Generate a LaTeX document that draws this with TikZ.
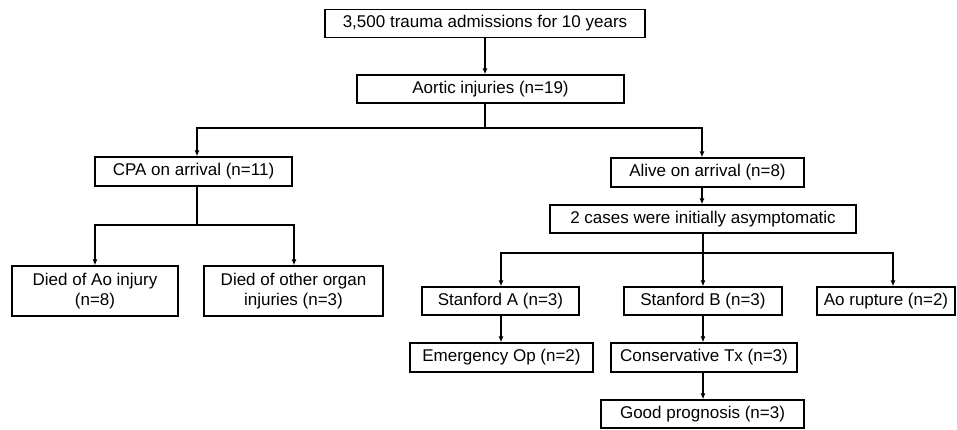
\documentclass[tikz,border=0pt]{standalone}
\usepackage{fontspec}
\setmainfont{Liberation Sans}
\usetikzlibrary{arrows.meta}
\begin{document}
\begin{tikzpicture}[x=1pt,y=-1pt,
  box/.style={draw, line width=1.3pt, inner sep=0pt, align=center, font=\fontsize{17}{20.5}\selectfont},
  arr/.style={-{Latex[length=6pt,width=5pt]}, line width=1.3pt},
  ln/.style={line width=1.3pt}]
\useasboundingbox (0,0) rectangle (957,429);
\node[box, minimum width=320, minimum height=28.5] (b1) at (485,23.5) {3,500 trauma admissions for 10 years};
\node[box, minimum width=267, minimum height=28] (b2) at (490.5,89) {Aortic injuries (n=19)};
\node[box, minimum width=197, minimum height=29] (cpa) at (193.5,171.5) {CPA on arrival (n=11)};
\node[box, minimum width=193, minimum height=29] (alive) at (707.5,172.5) {Alive on arrival (n=8)};
\node[box, minimum width=306, minimum height=28] (cases) at (703,219) {2 cases were initially asymptomatic};
\node[box, minimum width=166, minimum height=50] (diedAo) at (95,291) {Died of Ao injury\\(n=8)};
\node[box, minimum width=179, minimum height=50] (diedOther) at (293.5,291) {Died of other organ\\injuries (n=3)};
\node[box, minimum width=157, minimum height=28] (sa) at (500.5,301) {Stanford A (n=3)};
\node[box, minimum width=158, minimum height=28] (sb) at (703,301) {Stanford B (n=3)};
\node[box, minimum width=138, minimum height=28] (rup) at (886,301) {Ao rupture (n=2)};
\node[box, minimum width=183, minimum height=29] (em) at (501.5,357.5) {Emergency Op (n=2)};
\node[box, minimum width=186, minimum height=29] (con) at (704,357.5) {Conservative Tx (n=3)};
\node[box, minimum width=203, minimum height=28] (good) at (702.5,414) {Good prognosis (n=3)};
% junction coordinates
\coordinate (j1) at (485,128);
\coordinate (l1) at (197,128);
\coordinate (r1) at (702,128);
\coordinate (j3) at (197,225);
\coordinate (l3) at (95,225);
\coordinate (r3) at (294,225);
\coordinate (j2) at (703,253);
\coordinate (l2) at (501,253);
\coordinate (r2) at (893,253);
% connectors
\draw[arr] (b1.south) -- (b1.south |- b2.north);
\draw[ln] (b2.south -| j1) -- (j1);
\draw[arr] (j1) -| (l1 |- cpa.north);
\draw[arr] (j1) -| (r1 |- alive.north);
\draw[arr] (alive.south -| r1) -- (r1 |- cases.north);
\draw[ln] (cpa.south -| j3) -- (j3);
\draw[arr] (j3) -| (l3 |- diedAo.north);
\draw[arr] (j3) -| (r3 |- diedOther.north);
\draw[ln] (cases.south -| j2) -- (j2);
\draw[arr] (j2) -| (l2 |- sa.north);
\draw[arr] (j2) -- (j2 |- sb.north);
\draw[arr] (j2) -| (r2 |- rup.north);
\draw[arr] (sa.south -| l2) -- (l2 |- em.north);
\draw[arr] (sb.south -| j2) -- (j2 |- con.north);
\draw[arr] (con.south -| j2) -- (j2 |- good.north);
\end{tikzpicture}
\end{document}
